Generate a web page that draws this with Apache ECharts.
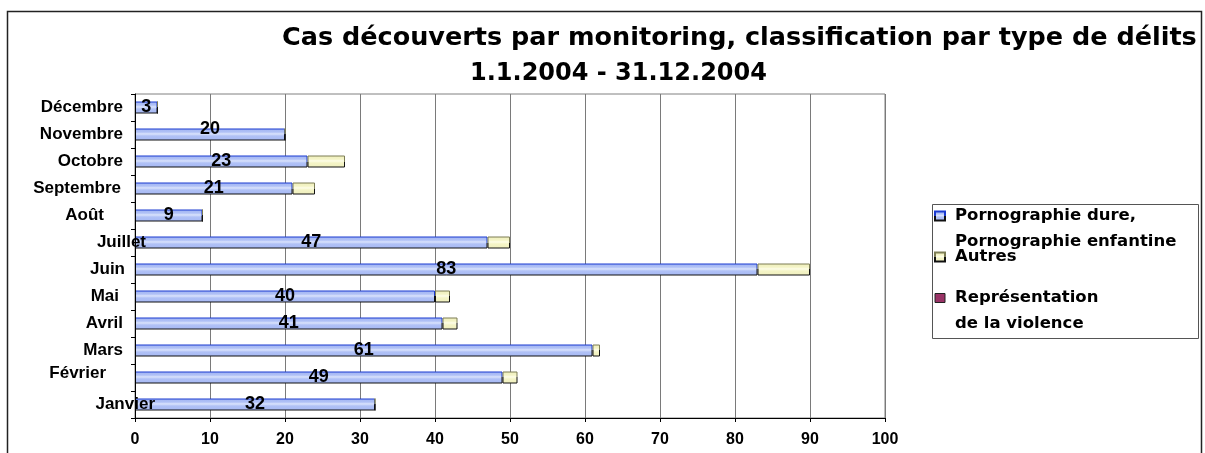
<!DOCTYPE html>
<html>
<head>
<meta charset="utf-8">
<script src="https://cdn.jsdelivr.net/npm/echarts@6/dist/echarts.min.js"></script>
<style>
html,body{margin:0;padding:0;background:#fff;}
#chart{width:1205px;height:453px;}
</style>
</head>
<body>
<div id="chart"></div>
<script>
// ---- data ----
const categories = ['Janvier','Février','Mars','Avril','Mai','Juin','Juillet','Août','Septembre','Octobre','Novembre','Décembre'];
const pornoValues = [32, 49, 61, 41, 40, 83, 47, 9, 21, 23, 20, 3];
const autresValues = [0, 2, 1, 2, 2, 7, 3, 0, 3, 5, 0, 0];
const violenceValues = [0, 0, 0, 0, 0, 0, 0, 0, 0, 0, 0, 0];
const xTickValues = [0, 10, 20, 30, 40, 50, 60, 70, 80, 90, 100];
const seriesNames = ['Pornographie dure, Pornographie enfantine', 'Autres', 'Représentation de la violence'];
const legendLines = [['Pornographie dure,', 'Pornographie enfantine'], ['Autres'], ['Représentation', 'de la violence']];
const titleLine1 = 'Cas découverts par monitoring, classification par type de délits';
const titleLine2 = '1.1.2004 - 31.12.2004';

// ---- styles (label placement quirks of the original) ----
const catLabelPadRight = [5, 54, 37, 37, 41, 35, 14, 56, 39, 37, 37, 37];
const catLabelPadBottom = [0, 8, 0, 0, 0, 0, 0, 0, 0, 0, 0, 0];
const valueLabelShiftY = [0, 0, 0, 0, 0, 0, 0, 0, 0, 0, -5, 0];

const G = echarts.graphic;
const blueFill = new G.LinearGradient(0, 0, 0, 1, [
  {offset: 0, color: '#9fb2f2'}, {offset: 0.3, color: '#b0c1f6'},
  {offset: 0.45, color: '#dae3fc'}, {offset: 0.62, color: '#b0c1f6'}, {offset: 1, color: '#a6b8f4'}
]);
const blueBorder = new G.LinearGradient(0, 0, 0, 1, [
  {offset: 0, color: '#1a3ad0'}, {offset: 0.5, color: '#1a3ad0'},
  {offset: 0.5, color: '#111'}, {offset: 1, color: '#111'}
]);
const yellowFill = new G.LinearGradient(0, 0, 0, 1, [
  {offset: 0, color: '#eeeebb'}, {offset: 0.3, color: '#f4f4c6'},
  {offset: 0.45, color: '#fdfde8'}, {offset: 0.62, color: '#f4f4c6'}, {offset: 1, color: '#efefbe'}
]);
const yellowBorder = new G.LinearGradient(0, 0, 0, 1, [
  {offset: 0, color: '#7d7d55'}, {offset: 0.5, color: '#7d7d55'},
  {offset: 0.5, color: '#111'}, {offset: 1, color: '#111'}
]);

const rich = {};
categories.forEach((c, i) => {
  rich['l' + i] = {padding: [0, catLabelPadRight[i], catLabelPadBottom[i], 0]};
});

const chart = echarts.init(document.getElementById('chart'), null, {renderer: 'canvas'});
const option = {
  backgroundColor: '#fff',
  animation: false,
  title: [
    {text: titleLine1, left: 282, top: 25, padding: 0,
     textStyle: {fontFamily: 'DejaVu Sans', fontWeight: 'bold', fontSize: 25.5, color: '#000'}},
    {text: titleLine2, left: 470, top: 62, padding: 0,
     textStyle: {fontFamily: 'DejaVu Sans', fontWeight: 'bold', fontSize: 24, color: '#000'}}
  ],
  graphic: [
    {type: 'rect', z: 0, silent: true, shape: {x: 7.5, y: 11.5, width: 1194, height: 470},
     style: {fill: 'none', stroke: '#222', lineWidth: 1.5}},
    {type: 'rect', z: 0, silent: true, shape: {x: 932.5, y: 204.5, width: 266, height: 134},
     style: {fill: 'none', stroke: '#555', lineWidth: 1}}
  ],
  legend: {
    orient: 'vertical',
    left: 934,
    top: 177,
    padding: 0,
    itemGap: -11,
    itemWidth: 10,
    itemHeight: 9,
    icon: 'rect',
    selectedMode: false,
    textStyle: {
      fontFamily: 'DejaVu Sans', fontWeight: 'bold', fontSize: 16.5, color: '#000', lineHeight: 26,
      rich: {t: {padding: [0, 0, 0, 5], lineHeight: 26}}
    },
    // an empty first line keeps the icon level with the first text line
    formatter: name => {
      const lines = legendLines[seriesNames.indexOf(name)].map(s => '{t|' + s + '}');
      return lines.length > 1 ? '\n' + lines.join('\n') : lines[0];
    },
    data: [
      {name: seriesNames[0]},
      {name: seriesNames[1]},
      {name: seriesNames[2], itemStyle: {borderColor: '#222', borderWidth: 1}}
    ]
  },
  grid: {left: 135, right: 320, top: 94, bottom: 35, show: true, borderColor: '#808080', borderWidth: 1, backgroundColor: '#fff'},
  xAxis: {
    type: 'value',
    min: xTickValues[0],
    max: xTickValues[xTickValues.length - 1],
    interval: xTickValues[1] - xTickValues[0],
    axisLine: {show: true, lineStyle: {color: '#000', width: 1}},
    axisTick: {show: true, length: 4, lineStyle: {color: '#000'}},
    splitLine: {show: true, lineStyle: {color: '#7a7a7a', width: 1}},
    axisLabel: {margin: 14, fontFamily: 'Liberation Sans', fontWeight: 'bold', fontSize: 16, color: '#000'}
  },
  yAxis: {
    type: 'category',
    data: categories,
    z: 10,
    axisLine: {show: true, lineStyle: {color: '#000', width: 1}},
    axisTick: {show: true, length: 4, lineStyle: {color: '#000'}},
    splitLine: {show: false},
    axisLabel: {
      interval: 0,
      margin: -25,
      fontFamily: 'Liberation Sans', fontWeight: 'bold', fontSize: 17, color: '#000',
      formatter: (value, index) => '{l' + index + '|' + value + '}',
      rich: rich
    }
  },
  series: [
    {
      name: seriesNames[0], type: 'bar', stack: 'total', barWidth: 12,
      itemStyle: {color: blueFill, borderColor: blueBorder, borderWidth: 1},
      label: {show: true, position: 'inside', fontFamily: 'Liberation Sans', fontWeight: 'bold', fontSize: 18, color: '#000'},
      data: pornoValues.map((v, i) => valueLabelShiftY[i] ? {value: v, label: {offset: [0, valueLabelShiftY[i]]}} : v)
    },
    {
      name: seriesNames[1], type: 'bar', stack: 'total', barWidth: 12,
      itemStyle: {color: yellowFill, borderColor: yellowBorder, borderWidth: 1},
      data: autresValues
    },
    {
      name: seriesNames[2], type: 'bar', stack: 'total', barWidth: 12,
      itemStyle: {color: '#993366', borderWidth: 0},
      data: violenceValues
    }
  ]
};
chart.setOption(option);
</script>
</body>
</html>
